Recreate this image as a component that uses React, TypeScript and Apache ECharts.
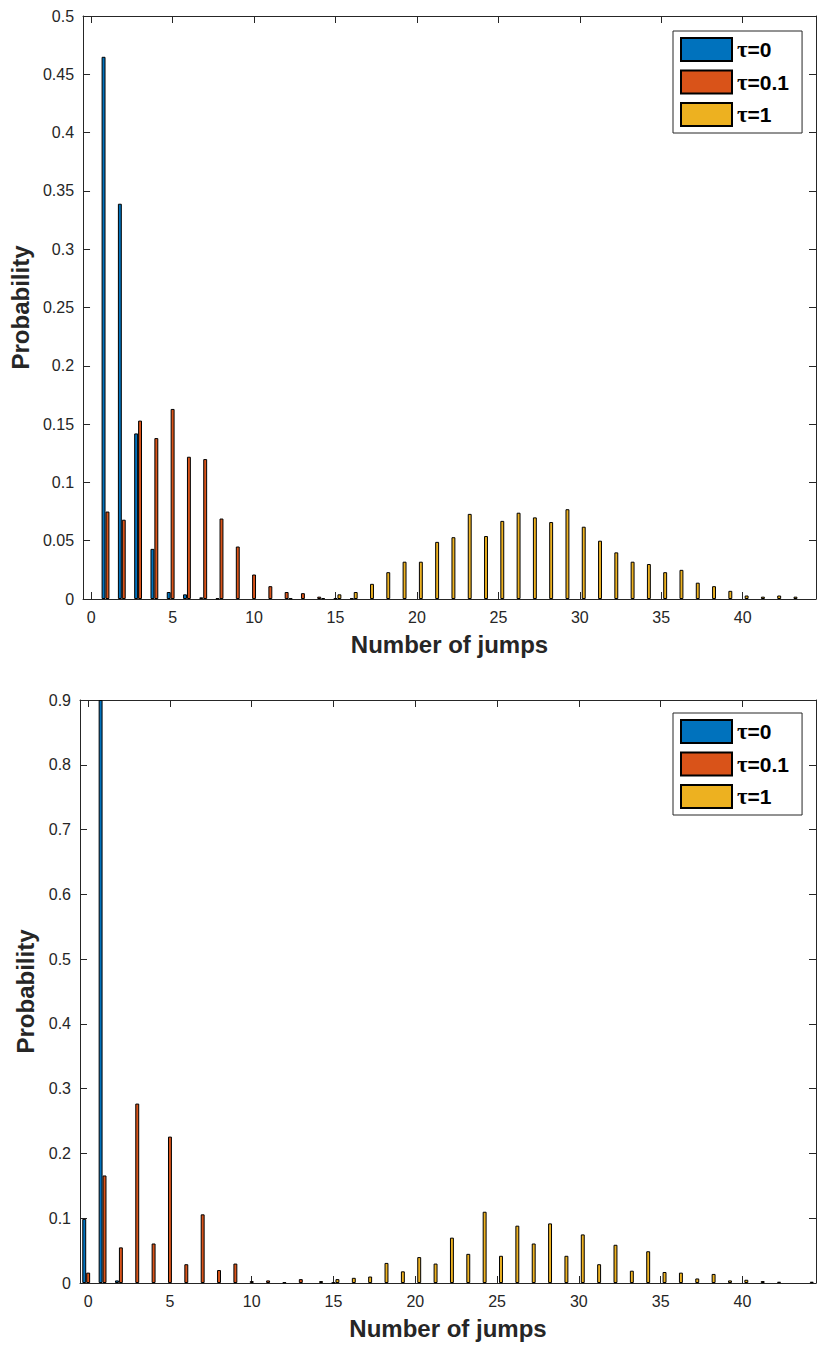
import React, { useEffect, useRef } from "react";
import * as echarts from "echarts";

const categories: string[] = Array.from({ length: 45 }, (_, i) => String(i));
const seriesNames = ["τ=0", "τ=0.1", "τ=1"];
const colors = ["#0072BD", "#D95319", "#EDB120"];

// Top panel
const topBlue = [
  0, 0.465, 0.339, 0.142, 0.043, 0.006, 0.004, 0.0014, 0.0005, 0,
  0, 0, 0, 0, 0, 0, 0, 0, 0, 0,
  0, 0, 0, 0, 0, 0, 0, 0, 0, 0,
  0, 0, 0, 0, 0, 0, 0, 0, 0, 0,
  0, 0, 0, 0, 0,
];
const topOrange = [
  0, 0.075, 0.068, 0.153, 0.138, 0.163, 0.122, 0.12, 0.069, 0.045,
  0.021, 0.011, 0.006, 0.005, 0.002, 0.0005, 0.0005, 0, 0, 0,
  0, 0, 0, 0, 0, 0, 0, 0, 0, 0,
  0, 0, 0, 0, 0, 0, 0, 0, 0, 0,
  0, 0, 0, 0, 0,
];
const topYellow = [
  0, 0, 0, 0, 0, 0, 0, 0, 0, 0,
  0, 0, 0.0005, 0, 0.0008, 0.004, 0.006, 0.013, 0.023, 0.032,
  0.032, 0.049, 0.053, 0.073, 0.054, 0.067, 0.074, 0.07, 0.066, 0.077,
  0.062, 0.05, 0.04, 0.032, 0.03, 0.023, 0.025, 0.014, 0.011, 0.007,
  0.003, 0.002, 0.003, 0.002, 0,
];

// Bottom panel
const botBlue = [
  0.099, 0.9, 0.004, 0, 0, 0, 0, 0, 0, 0,
  0, 0, 0, 0, 0, 0, 0, 0, 0, 0,
  0, 0, 0, 0, 0, 0, 0, 0, 0, 0,
  0, 0, 0, 0, 0, 0, 0, 0, 0, 0,
  0, 0, 0, 0, 0,
];
const botOrange = [
  0.016, 0.166, 0.055, 0.277, 0.061, 0.226, 0.029, 0.106, 0.02, 0.03,
  0.003, 0.004, 0.001, 0.006, 0, 0.0005, 0, 0, 0, 0,
  0, 0, 0, 0, 0, 0, 0, 0, 0, 0,
  0, 0, 0, 0, 0, 0, 0, 0, 0, 0,
  0, 0, 0, 0, 0,
];
const botYellow = [
  0, 0, 0, 0, 0, 0, 0, 0, 0, 0,
  0, 0, 0, 0, 0.003, 0.006, 0.008, 0.01, 0.031, 0.018,
  0.04, 0.03, 0.07, 0.045, 0.11, 0.042, 0.0885, 0.061, 0.092, 0.042,
  0.075, 0.029, 0.059, 0.019, 0.049, 0.017, 0.016, 0.007, 0.014, 0.004,
  0.005, 0.003, 0.002, 0, 0.002,
];

const topY = { min: 0, max: 0.5, interval: 0.05 };
const botY = { min: 0, max: 0.9, interval: 0.1 };

const FONT = "'Liberation Sans', Arial, Helvetica, sans-serif";
const AX = "#262626";

function every5(i: number) {
  return i % 5 === 0;
}

function makeX(gridIndex: number, bottom: boolean) {
  return {
    type: "category",
    gridIndex,
    data: categories,
    position: bottom ? "bottom" : "top",
    boundaryGap: true,
    axisLine: { show: true, onZero: false, lineStyle: { color: AX, width: 1 } },
    axisTick: {
      show: true,
      inside: true,
      length: 7,
      alignWithLabel: true,
      interval: every5,
      lineStyle: { color: AX },
    },
    axisLabel: {
      show: bottom,
      interval: every5,
      margin: 10,
      color: AX,
      fontSize: 16,
      fontFamily: FONT,
    },
    splitLine: { show: false },
    name: bottom ? "Number of jumps" : "",
    nameLocation: "middle",
    nameGap: 33,
    nameTextStyle: { fontSize: 24, fontWeight: "bold", color: AX, fontFamily: FONT },
  };
}

function makeY(gridIndex: number, left: boolean, r: { min: number; max: number; interval: number }, gap: number) {
  return {
    type: "value",
    gridIndex,
    position: left ? "left" : "right",
    min: r.min,
    max: r.max,
    interval: r.interval,
    axisLine: { show: true, onZero: false, lineStyle: { color: AX, width: 1 } },
    axisTick: { show: true, inside: true, length: 7, lineStyle: { color: AX } },
    axisLabel: { show: left, margin: 9, color: AX, fontSize: 16, fontFamily: FONT },
    splitLine: { show: false },
    name: left ? "Probability" : "",
    nameLocation: "middle",
    nameGap: gap,
    nameRotate: 90,
    nameTextStyle: { fontSize: 24, fontWeight: "bold", color: AX, fontFamily: FONT },
  };
}

function makeBar(name: string, color: string, data: number[], axisIndex: number) {
  return {
    type: "bar",
    name,
    xAxisIndex: axisIndex,
    yAxisIndex: axisIndex,
    data: data.map((v) => (v === 0 ? "-" : v)),
    barWidth: "24%",
    barGap: "0%",
    itemStyle: { color, borderColor: "#000", borderWidth: 1 },
    emphasis: { disabled: true },
  };
}

function makeLegend(top: number) {
  return {
    show: true,
    left: 673,
    top,
    orient: "vertical",
    data: seriesNames,
    itemWidth: 51,
    itemHeight: 23,
    itemGap: 7.5,
    padding: [6, 13, 6, 7],
    borderColor: AX,
    borderWidth: 1,
    backgroundColor: "#fff",
    selectedMode: false,
    icon: "rect",
    formatter: (n: string) => `{t|τ}{n|${n.slice(1)}}`,
    textStyle: {
      fontSize: 21,
      fontWeight: "bold",
      color: "#000",
      fontFamily: FONT,
      rich: {
        t: { fontFamily: "'Liberation Serif', 'DejaVu Serif', serif", fontWeight: "bold", fontSize: 23, color: "#000" },
        n: { fontFamily: FONT, fontWeight: "bold", fontSize: 21, color: "#000" },
      },
    },
  };
}

export default function App() {
  const ref = useRef<HTMLDivElement>(null);
  useEffect(() => {
    document.body.style.margin = "0";
    if (!ref.current) return;
    const chart = echarts.init(ref.current, undefined, { renderer: "svg" });
    chart.setOption({
      animation: false,
      backgroundColor: "#fff",
      grid: [
        { left: 80, top: 16, width: 736, height: 583 },
        { left: 80, top: 700, width: 736, height: 583 },
      ],
      xAxis: [makeX(0, true), makeX(0, false), makeX(1, true), makeX(1, false)],
      yAxis: [
        makeY(0, true, topY, 46),
        makeY(0, false, topY, 0),
        makeY(1, true, botY, 38),
        makeY(1, false, botY, 0),
      ],
      legend: [makeLegend(31), makeLegend(713)],
      series: [
        makeBar(seriesNames[0], colors[0], topBlue, 0),
        makeBar(seriesNames[1], colors[1], topOrange, 0),
        makeBar(seriesNames[2], colors[2], topYellow, 0),
        makeBar(seriesNames[0], colors[0], botBlue, 2),
        makeBar(seriesNames[1], colors[1], botOrange, 2),
        makeBar(seriesNames[2], colors[2], botYellow, 2),
      ],
    });
    return () => chart.dispose();
  }, []);
  return <div ref={ref} style={{ width: 830, height: 1355 }} />;
}
